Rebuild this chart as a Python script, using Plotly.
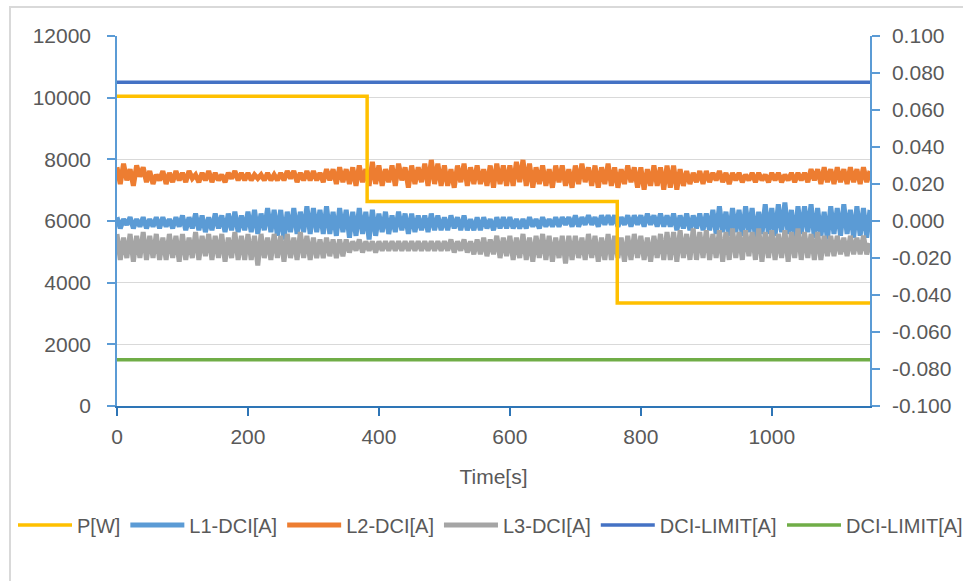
import plotly.graph_objects as go

# ---------------- data ----------------
t = list(range(0, 1151, 5))  # sample times [s]

L2_DCI = [
    0.029, 0.020, 0.031, 0.022, 0.028, 0.019, 0.030, 0.024, 0.029, 0.021,
    0.027, 0.020, 0.025, 0.022, 0.027, 0.020, 0.026, 0.021, 0.027, 0.022,
    0.026, 0.021, 0.027, 0.023, 0.025, 0.021, 0.026, 0.022, 0.027, 0.021,
    0.026, 0.022, 0.025, 0.021, 0.026, 0.023, 0.027, 0.022, 0.026, 0.022,
    0.026, 0.022, 0.025, 0.023, 0.025, 0.022, 0.026, 0.022, 0.025, 0.022,
    0.026, 0.022, 0.027, 0.023, 0.027, 0.021, 0.026, 0.022, 0.027, 0.022,
    0.027, 0.022, 0.026, 0.021, 0.028, 0.022, 0.028, 0.020, 0.029, 0.021,
    0.028, 0.020, 0.029, 0.019, 0.030, 0.021, 0.028, 0.019, 0.032, 0.020,
    0.030, 0.019, 0.028, 0.021, 0.030, 0.019, 0.031, 0.022, 0.029, 0.018,
    0.030, 0.020, 0.029, 0.021, 0.031, 0.019, 0.033, 0.020, 0.031, 0.019,
    0.030, 0.019, 0.028, 0.018, 0.030, 0.021, 0.031, 0.019, 0.029, 0.020,
    0.030, 0.020, 0.028, 0.019, 0.030, 0.018, 0.031, 0.020, 0.030, 0.019,
    0.030, 0.019, 0.032, 0.021, 0.033, 0.019, 0.031, 0.018, 0.029, 0.020,
    0.030, 0.019, 0.028, 0.018, 0.030, 0.021, 0.030, 0.019, 0.028, 0.018,
    0.030, 0.020, 0.031, 0.021, 0.029, 0.019, 0.030, 0.018, 0.029, 0.020,
    0.031, 0.019, 0.029, 0.018, 0.028, 0.020, 0.030, 0.021, 0.029, 0.018,
    0.029, 0.017, 0.028, 0.019, 0.030, 0.019, 0.029, 0.017, 0.030, 0.018,
    0.030, 0.017, 0.028, 0.019, 0.027, 0.020, 0.026, 0.021, 0.027, 0.020,
    0.027, 0.021, 0.026, 0.022, 0.027, 0.021, 0.026, 0.020, 0.026, 0.022,
    0.026, 0.021, 0.025, 0.022, 0.026, 0.021, 0.026, 0.022, 0.025, 0.021,
    0.026, 0.022, 0.026, 0.021, 0.025, 0.022, 0.026, 0.021, 0.026, 0.022,
    0.026, 0.021, 0.028, 0.022, 0.028, 0.020, 0.029, 0.021, 0.028, 0.020,
    0.029, 0.021, 0.028, 0.020, 0.029, 0.021, 0.028, 0.020, 0.029, 0.021,
    0.027,
]

L1_DCI = [
    0.002, -0.004, 0.001, -0.002, 0.002, -0.004, 0.001, -0.003, 0.002, -0.004,
    0.001, -0.003, 0.002, -0.004, 0.002, -0.003, 0.001, -0.004, 0.002, -0.003,
    0.003, -0.005, 0.002, -0.004, 0.004, -0.005, 0.003, -0.006, 0.002, -0.005,
    0.004, -0.004, 0.003, -0.006, 0.004, -0.005, 0.005, -0.006, 0.003, -0.005,
    0.005, -0.006, 0.006, -0.007, 0.004, -0.005, 0.007, -0.006, 0.006, -0.008,
    0.006, -0.010, 0.005, -0.006, 0.007, -0.007, 0.005, -0.006, 0.008, -0.007,
    0.007, -0.006, 0.006, -0.007, 0.008, -0.007, 0.005, -0.008, 0.007, -0.006,
    0.006, -0.009, 0.005, -0.008, 0.007, -0.007, 0.005, -0.010, 0.006, -0.008,
    0.004, -0.006, 0.005, -0.007, 0.003, -0.006, 0.005, -0.005, 0.004, -0.007,
    0.004, -0.006, 0.003, -0.005, 0.003, -0.006, 0.004, -0.005, 0.003, -0.005,
    0.002, -0.005, 0.003, -0.004, 0.002, -0.005, 0.003, -0.005, 0.001, -0.005,
    0.002, -0.005, 0.002, -0.004, 0.001, -0.005, 0.002, -0.004, 0.002, -0.004,
    0.002, -0.004, 0.001, -0.004, 0.001, -0.004, 0.002, -0.003, 0.001, -0.004,
    0.002, -0.003, 0.001, -0.003, 0.002, -0.003, 0.002, -0.002, 0.002, -0.003,
    0.003, -0.003, 0.002, -0.002, 0.003, -0.002, 0.002, -0.003, 0.003, -0.002,
    0.003, -0.002, 0.003, -0.003, 0.002, -0.002, 0.003, -0.003, 0.003, -0.002,
    0.003, -0.003, 0.004, -0.002, 0.003, -0.003, 0.004, -0.003, 0.003, -0.003,
    0.004, -0.005, 0.003, -0.004, 0.004, -0.005, 0.003, -0.004, 0.004, -0.005,
    0.004, -0.005, 0.006, -0.007, 0.008, -0.006, 0.005, -0.008, 0.007, -0.006,
    0.006, -0.008, 0.008, -0.006, 0.007, -0.009, 0.005, -0.007, 0.009, -0.007,
    0.007, -0.008, 0.009, -0.006, 0.010, -0.007, 0.006, -0.010, 0.008, -0.007,
    0.008, -0.006, 0.009, -0.009, 0.007, -0.008, 0.005, -0.010, 0.008, -0.007,
    0.007, -0.008, 0.009, -0.007, 0.006, -0.009, 0.008, -0.008, 0.007, -0.009,
    0.006,
]

L3_DCI = [
    -0.007, -0.021, -0.009, -0.020, -0.007, -0.022, -0.008, -0.020, -0.006, -0.021,
    -0.008, -0.020, -0.007, -0.021, -0.009, -0.021, -0.007, -0.020, -0.008, -0.022,
    -0.007, -0.021, -0.009, -0.020, -0.006, -0.021, -0.008, -0.019, -0.007, -0.021,
    -0.008, -0.020, -0.007, -0.022, -0.009, -0.020, -0.006, -0.021, -0.008, -0.021,
    -0.007, -0.021, -0.008, -0.024, -0.007, -0.020, -0.009, -0.021, -0.007, -0.020,
    -0.008, -0.022, -0.007, -0.020, -0.009, -0.021, -0.006, -0.020, -0.008, -0.021,
    -0.009, -0.020, -0.010, -0.020, -0.009, -0.019, -0.010, -0.020, -0.010, -0.019,
    -0.010, -0.017, -0.011, -0.016, -0.010, -0.017, -0.011, -0.016, -0.011, -0.017,
    -0.011, -0.016, -0.011, -0.016, -0.011, -0.016, -0.011, -0.016, -0.011, -0.016,
    -0.011, -0.016, -0.011, -0.016, -0.011, -0.016, -0.011, -0.016, -0.011, -0.016,
    -0.011, -0.016, -0.010, -0.017, -0.011, -0.016, -0.010, -0.017, -0.011, -0.018,
    -0.010, -0.018, -0.009, -0.019, -0.010, -0.018, -0.008, -0.020, -0.009, -0.019,
    -0.008, -0.021, -0.009, -0.020, -0.007, -0.021, -0.009, -0.022, -0.008, -0.020,
    -0.007, -0.021, -0.008, -0.022, -0.009, -0.020, -0.008, -0.023, -0.008, -0.021,
    -0.008, -0.020, -0.009, -0.021, -0.007, -0.020, -0.008, -0.022, -0.009, -0.021,
    -0.007, -0.021, -0.008, -0.020, -0.009, -0.022, -0.008, -0.021, -0.007, -0.020,
    -0.008, -0.021, -0.009, -0.022, -0.008, -0.020, -0.007, -0.021, -0.006, -0.021,
    -0.006, -0.022, -0.005, -0.020, -0.007, -0.021, -0.004, -0.021, -0.006, -0.020,
    -0.005, -0.021, -0.007, -0.020, -0.005, -0.022, -0.006, -0.021, -0.004, -0.020,
    -0.006, -0.021, -0.005, -0.019, -0.006, -0.021, -0.004, -0.022, -0.006, -0.020,
    -0.005, -0.021, -0.007, -0.020, -0.005, -0.022, -0.006, -0.020, -0.004, -0.021,
    -0.006, -0.020, -0.007, -0.021, -0.006, -0.021, -0.008, -0.019, -0.008, -0.019,
    -0.008, -0.018, -0.009, -0.019, -0.008, -0.018, -0.009, -0.018, -0.008, -0.018,
    -0.012,
]

P_time = [0, 382, 764, 1150]
P_W = [10050, 6630, 3340, 3340]

LIMIT_time = [0, 1150]
LIMIT_POS = [0.075, 0.075]
LIMIT_NEG = [-0.075, -0.075]

x_ticks = [0, 200, 400, 600, 800, 1000]
x_labels = ["0", "200", "400", "600", "800", "1000"]
left_ticks = [0, 2000, 4000, 6000, 8000, 10000, 12000]
left_labels = ["0", "2000", "4000", "6000", "8000", "10000", "12000"]
right_ticks = [-0.1, -0.08, -0.06, -0.04, -0.02, 0.0, 0.02, 0.04, 0.06, 0.08, 0.1]
right_labels = ["-0.100", "-0.080", "-0.060", "-0.040", "-0.020", "0.000",
                "0.020", "0.040", "0.060", "0.080", "0.100"]

# ---------------- style ----------------
FONT = "Liberation Sans"
TXT = "#595959"
AXBLUE = "#5B9BD5"
XBLUE = "#2E75B6"
NOISE_W = 5

fig = go.Figure()

fig.add_trace(go.Scatter(x=P_time, y=P_W, name="P[W]", mode="lines", line_shape="hv",
                         line=dict(color="#FFC000", width=3.5), yaxis="y2"))
fig.add_trace(go.Scatter(x=t, y=L1_DCI, name="L1-DCI[A]", mode="lines",
                         line=dict(color="#5B9BD5", width=NOISE_W), yaxis="y"))
fig.add_trace(go.Scatter(x=t, y=L2_DCI, name="L2-DCI[A]", mode="lines",
                         line=dict(color="#ED7D31", width=NOISE_W), yaxis="y"))
fig.add_trace(go.Scatter(x=t, y=L3_DCI, name="L3-DCI[A]", mode="lines",
                         line=dict(color="#A5A5A5", width=NOISE_W), yaxis="y"))
fig.add_trace(go.Scatter(x=LIMIT_time, y=LIMIT_POS, name="DCI-LIMIT[A]", mode="lines",
                         line=dict(color="#4472C4", width=3.5), yaxis="y"))
fig.add_trace(go.Scatter(x=LIMIT_time, y=LIMIT_NEG, name="DCI-LIMIT[A]", mode="lines",
                         line=dict(color="#70AD47", width=3.5), yaxis="y", legend="legend2"))

L, R, T, B = 117, 93, 36, 175
W, H = 963, 581
pw, ph = W - L - R, H - T - B

def px2x(px):
    return (px - L) / pw

def py2y(py):
    return (H - B - py) / ph

legend_style = dict(orientation="h", font=dict(family=FONT, size=20, color=TXT),
                    itemwidth=54, bgcolor="rgba(0,0,0,0)", xanchor="left",
                    yanchor="middle", y=py2y(525), itemclick=False)

tickfont = dict(family=FONT, size=21, color=TXT)

fig.update_layout(
    width=W, height=H,
    margin=dict(l=L, r=R, t=T, b=B, autoexpand=False),
    paper_bgcolor="white", plot_bgcolor="white",
    font=dict(family=FONT, color=TXT, size=21),
    showlegend=True,
    legend=dict(x=px2x(13), **legend_style),
    legend2=dict(x=px2x(782), **legend_style),
    xaxis=dict(range=[0, 1150], tickvals=x_ticks, ticktext=x_labels, showgrid=False, zeroline=False,
               showline=True, linecolor=XBLUE, linewidth=1.5, ticks="outside",
               tickcolor=XBLUE, ticklen=8, tickwidth=1.5, tickfont=tickfont, ticklabelstandoff=3,
               title=dict(text="Time[s]", font=dict(family=FONT, size=21, color=TXT), standoff=22)),
    yaxis=dict(range=[-0.1, 0.1], tickvals=right_ticks, ticktext=right_labels, side="right",
               showgrid=False, zeroline=False, showline=True, linecolor=AXBLUE, linewidth=1.5,
               ticks="outside", tickcolor=AXBLUE, ticklen=8, tickwidth=1.5,
               tickfont=tickfont, ticklabelstandoff=8),
    yaxis2=dict(range=[0, 12000], tickvals=left_ticks, ticktext=left_labels, side="left", overlaying="y",
                showgrid=True, gridcolor="#D9D9D9", gridwidth=1.2, zeroline=False,
                showline=True, linecolor=AXBLUE, linewidth=1.5,
                ticks="outside", tickcolor=AXBLUE, ticklen=8, tickwidth=1.5,
                tickfont=tickfont, ticklabelstandoff=12),
    shapes=[dict(type="rect", xref="paper", yref="paper",
                 x0=px2x(10), x1=px2x(1100), y0=py2y(700), y1=py2y(7),
                 line=dict(color="#D9D9D9", width=2), fillcolor="rgba(0,0,0,0)", layer="below")],
)

fig.write_html("out.html", config={"displayModeBar": False},
               post_script="document.body.style.margin='0px';document.body.style.overflow='hidden';")
